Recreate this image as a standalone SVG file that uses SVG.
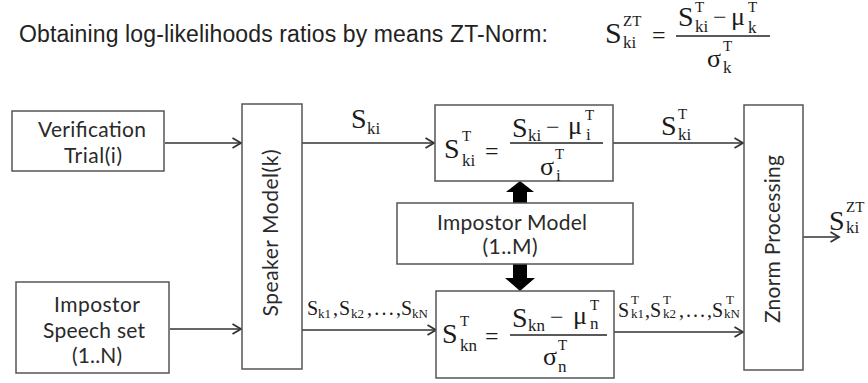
<svg xmlns="http://www.w3.org/2000/svg" width="868" height="383" viewBox="0 0 868 383">
<style>
.box{fill:#fff;stroke:#555;stroke-width:1.5}
.lbl{font-family:Lato,"Open Sans","Noto Sans",sans-serif;font-size:21px;fill:#2a2a2a;text-anchor:middle}
.m{font-family:"Liberation Serif","Times New Roman",serif;fill:#1a1a1a}
.big{font-size:28px}
.gr{font-size:26px}
.sub{font-size:17px}
.sup{font-size:15px}
.small{font-size:20px}
.tiny{font-size:13px}
.conn{stroke:#333;stroke-width:1.4;fill:none;marker-end:url(#arr)}
.bar{stroke:#222;stroke-width:1.3}
</style>
<defs>
<marker id="arr" markerUnits="userSpaceOnUse" markerWidth="12" markerHeight="12" refX="9.5" refY="6" orient="auto">
<path d="M1,1 L9.5,6 L1,11" fill="none" stroke="#333" stroke-width="1.8"/>
</marker>
</defs>
<rect width="868" height="383" fill="#fff"/>

<text x="19" y="42" font-family="'Liberation Sans',Arial,sans-serif" font-size="23" fill="#222" textLength="529">Obtaining log-likelihoods ratios by means ZT-Norm:</text>

<g id="title-formula" class="m">
<text x="605" y="43" font-size="30">S</text>
<text x="623" y="26" class="sup">ZT</text>
<text x="623" y="48" class="sub">ki</text>
<text x="652" y="43" font-size="24">=</text>
<line x1="676" y1="36" x2="770" y2="36" class="bar"/>
<text x="678" y="26" class="big">S</text>
<text x="695" y="12" class="sup">T</text>
<text x="695" y="32" class="sub">ki</text>
<text x="713" y="25" font-size="24">−</text>
<text x="731" y="25" class="gr">μ</text>
<text x="748" y="12" class="sup">T</text>
<text x="748" y="33" class="sub">k</text>
<text x="707" y="67" class="gr">σ</text>
<text x="723" y="51" class="sup">T</text>
<text x="723" y="73" class="sub">k</text>
</g>

<g id="connectors">
<line x1="165" y1="143" x2="241" y2="143" class="conn"/>
<line x1="170" y1="329" x2="241" y2="329" class="conn"/>
<line x1="302" y1="143" x2="434" y2="143" class="conn"/>
<line x1="302" y1="330" x2="436" y2="330" class="conn"/>
<line x1="613" y1="143" x2="743" y2="143" class="conn"/>
<line x1="614" y1="332" x2="743" y2="332" class="conn"/>
<line x1="803" y1="237" x2="839" y2="237" class="conn"/>
<path d="M513,203 L513,192 L506,192 L520,181 L534,192 L527,192 L527,203 Z" fill="#000"/>
<path d="M513,264 L513,278 L505,278 L520,291 L535,278 L527,278 L527,264 Z" fill="#000"/>
</g>

<g id="conn-labels" class="m">
<text x="351" y="128" class="big">S</text>
<text x="367" y="134" class="sub">ki</text>

<text x="661" y="135" class="big">S</text>
<text x="678" y="119" class="sup">T</text>
<text x="678" y="140" class="sub">ki</text>

<text x="829" y="230" class="big">S</text>
<text x="846" y="212" class="sup">ZT</text>
<text x="846" y="233" class="sub">ki</text>

<text x="307" y="315" class="small">S</text>
<text x="318" y="318" class="tiny">k1</text>
<text x="333" y="315" class="small">,</text>
<text x="339" y="315" class="small">S</text>
<text x="351" y="318" class="tiny">k2</text>
<text x="367" y="315" class="small" textLength="34">,...,</text>
<text x="401" y="315" class="small">S</text>
<text x="412" y="318" class="tiny">kN</text>

<text x="618" y="317" class="small">S</text>
<text x="631" y="304" class="tiny">T</text>
<text x="631" y="318" class="tiny">k1</text>
<text x="645" y="317" class="small">,</text>
<text x="650" y="317" class="small">S</text>
<text x="663" y="304" class="tiny">T</text>
<text x="663" y="318" class="tiny">k2</text>
<text x="679" y="317" class="small" textLength="33">,...,</text>
<text x="712" y="317" class="small">S</text>
<text x="726" y="304" class="tiny">T</text>
<text x="724" y="318" class="tiny">kN</text>
</g>

<g id="verification">
<rect x="12" y="111" width="152" height="60" class="box"/>
<text x="92" y="137" class="lbl" textLength="108">Verification</text>
<text x="93" y="163" class="lbl" textLength="58">Trial(i)</text>
</g>

<g id="impostor-speech">
<rect x="16" y="282" width="153" height="91" class="box"/>
<text x="97" y="312" class="lbl" textLength="86">Impostor</text>
<text x="94" y="338" class="lbl" textLength="102">Speech set</text>
<text x="97" y="363" class="lbl" textLength="50">(1..N)</text>
</g>

<g id="speaker-model">
<rect x="242" y="104" width="60" height="265" class="box"/>
<text transform="translate(278,233) rotate(-90)" class="lbl" textLength="167">Speaker Model(k)</text>
</g>

<g id="tnorm-top">
<rect x="435" y="105" width="178" height="76" class="box"/>
<g class="m">
<text x="444" y="158" class="big">S</text>
<text x="462" y="141" class="sup">T</text>
<text x="462" y="166" class="sub">ki</text>
<text x="485" y="159" font-size="24">=</text>
<line x1="510" y1="143" x2="603" y2="143" class="bar"/>
<text x="512" y="137" class="big">S</text>
<text x="528" y="141" class="sub">ki</text>
<text x="546" y="135" font-size="24">−</text>
<text x="568" y="134" class="gr">μ</text>
<text x="585" y="120" class="sup">T</text>
<text x="586" y="140" class="sub">i</text>
<text x="540" y="175" class="gr">σ</text>
<text x="555" y="159" class="sup">T</text>
<text x="556" y="181" class="sub">i</text>
</g>
</g>

<g id="impostor-model">
<rect x="397" y="203" width="236" height="61" class="box"/>
<text x="512" y="230" class="lbl" textLength="150">Impostor Model</text>
<text x="510" y="254" class="lbl" textLength="55">(1..M)</text>
</g>

<g id="tnorm-bottom">
<rect x="436" y="291" width="178" height="87" class="box"/>
<g class="m">
<text x="442" y="343" class="big">S</text>
<text x="460" y="326" class="sup">T</text>
<text x="460" y="351" class="sub">kn</text>
<text x="485" y="344" font-size="24">=</text>
<line x1="510" y1="335" x2="607" y2="335" class="bar"/>
<text x="512" y="327" class="big">S</text>
<text x="528" y="331" class="sub">kn</text>
<text x="550" y="325" font-size="24">−</text>
<text x="573" y="324" class="gr">μ</text>
<text x="590" y="310" class="sup">T</text>
<text x="590" y="329" class="sub">n</text>
<text x="543" y="365" class="gr">σ</text>
<text x="558" y="350" class="sup">T</text>
<text x="558" y="372" class="sub">n</text>
</g>
</g>

<g id="znorm">
<rect x="744" y="105" width="59" height="265" class="box"/>
<text transform="translate(780,239) rotate(-90)" class="lbl" textLength="168">Znorm Processing</text>
</g>
</svg>
